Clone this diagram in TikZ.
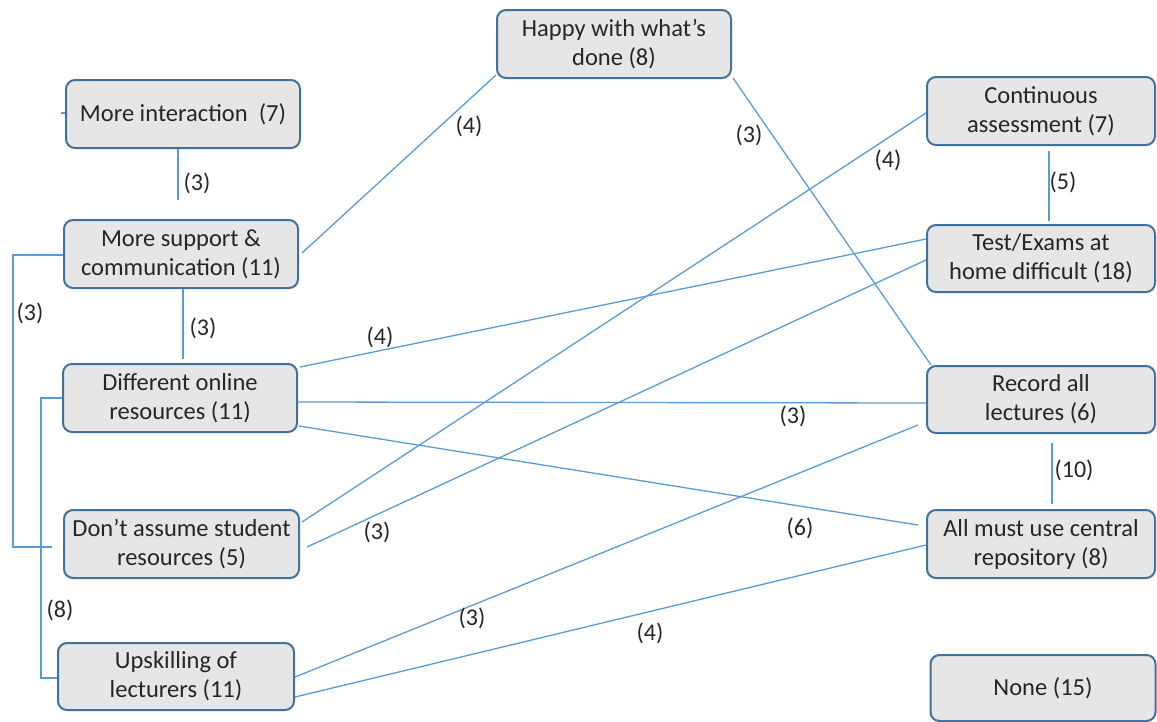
\documentclass[tikz,border=0pt]{standalone}
\usepackage{fontspec}
\setmainfont{Carlito}
\usetikzlibrary{calc}
\definecolor{boxfill}{HTML}{E7E6E6}
\definecolor{boxline}{HTML}{41719C}
\definecolor{linkline}{HTML}{5B9BD5}
\begin{document}
\begin{tikzpicture}[x=1pt,y=-1pt,
  box/.style={draw=boxline, fill=boxfill, line width=2pt, rounded corners=9pt,
    align=center, inner sep=0pt, minimum height=68pt,
    font=\fontsize{24.5}{29}\selectfont, text=black!85},
  link/.style={draw=linkline, line width=1.3pt},
  lbl/.style={font=\fontsize{24}{28}\selectfont, inner sep=0pt, text=black!85}]
\useasboundingbox (0,0) rectangle (1157,721);

% left column
\node[box, minimum width=234pt] (inter) at (183,114) {More interaction\ \ (7)};
\node[box, minimum width=234pt] (supp)  at (181,254) {More support \&\\communication (11)};
\node[box, minimum width=234pt] (diff)  at (180,398) {Different online\\resources (11)};
\node[box, minimum width=235pt] (dont)  at (181.5,544) {Don’t assume student\\resources (5)};
\node[box, minimum width=236pt, minimum height=67pt] (upsk) at (176,676.5) {Upskilling of\\lecturers (11)};

% top middle
\node[box, minimum width=234pt] (happy) at (614,44) {Happy with what’s\\done (8)};

% right column
\node[box, minimum width=228pt] (cont) at (1041,111) {Continuous\\assessment (7)};
\node[box, minimum width=228pt, minimum height=67pt] (test) at (1041,258.5) {Test/Exams at\\home difficult (18)};
\node[box, minimum width=228pt, minimum height=67pt] (rec)  at (1041,399.5) {Record all\\lectures (6)};
\node[box, minimum width=228pt] (all)  at (1041,544) {All must use central\\repository (8)};
\node[box, minimum width=225pt, minimum height=66pt] (none) at (1043,688) {None (15)};

% short stub at the left of the first box
\draw[link] ($(inter.west |- 0,113)+(-4,0)$) -- (inter.west |- 0,113);

% vertical links
\draw[link] (inter.south -| 178,0) -- ($(supp.north -| 178,0)+(0,-19)$);
\draw[link] (supp.south -| 183,0) -- ($(diff.north -| 183,0)+(0,-4)$);
\draw[link] ($(cont.south -| 1049,0)+(0,5)$) -- ($(test.north -| 1049,0)+(0,-3)$);
\draw[link] ($(rec.south -| 1052,0)+(0,9)$) -- ($(all.north -| 1052,0)+(0,-5)$);

% bracket links on the left
\draw[link] (supp.west |- 0,255) -| (13,547) -- ($(dont.west |- 0,547)+(-11,0)$);
\draw[link] (diff.west |- 0,398) -| (41,678) -- (upsk.west |- 0,678);

% diagonal links
\draw[link] ($(supp.east |- 0,253)+(3,0)$) -- (happy.west |- 0,75);
\draw[link] ($(happy.east |- 0,78)+(1,0)$) -- ($(rec.north west)+(5,0)$);
\draw[link] ($(dont.east |- 0,522)+(2,0)$) -- (cont.west |- 0,113);
\draw[link] ($(dont.east |- 0,547)+(7,0)$) -- (test.west |- 0,260);
\draw[link] ($(diff.east |- 0,367)+(2,0)$) -- (test.west |- 0,239);
\draw[link] (diff.east |- 0,402) -- (rec.west |- 0,403);
\draw[link] ($(diff.east |- 0,426)+(1,0)$) -- ($(all.west |- 0,525)+(-8,0)$);
\draw[link] (upsk.east |- 0,677) -- ($(rec.west |- 0,425)+(-8,0)$);
\draw[link] (upsk.east |- 0,697) -- (all.west |- 0,545);

% counts on the links
\node[lbl] (l1)  at (197,183) {(3)};
\node[lbl] (l2)  at (203,328) {(3)};
\node[lbl] (l3)  at (30,313) {(3)};
\node[lbl] (l4)  at (60,610) {(8)};
\node[lbl] (l5)  at (469,126) {(4)};
\node[lbl] (l6)  at (749,135) {(3)};
\node[lbl] (l7)  at (888,160) {(4)};
\node[lbl] (l8)  at (380,337) {(4)};
\node[lbl] (l9)  at (377,532) {(3)};
\node[lbl] (l10) at (793,416) {(3)};
\node[lbl] (l11) at (800,528) {(6)};
\node[lbl] (l12) at (472,618) {(3)};
\node[lbl] (l13) at (650,633) {(4)};
\node[lbl] (l14) at (1063,182) {(5)};
\node[lbl] (l15) at (1074,470) {(10)};
\end{tikzpicture}
\end{document}
